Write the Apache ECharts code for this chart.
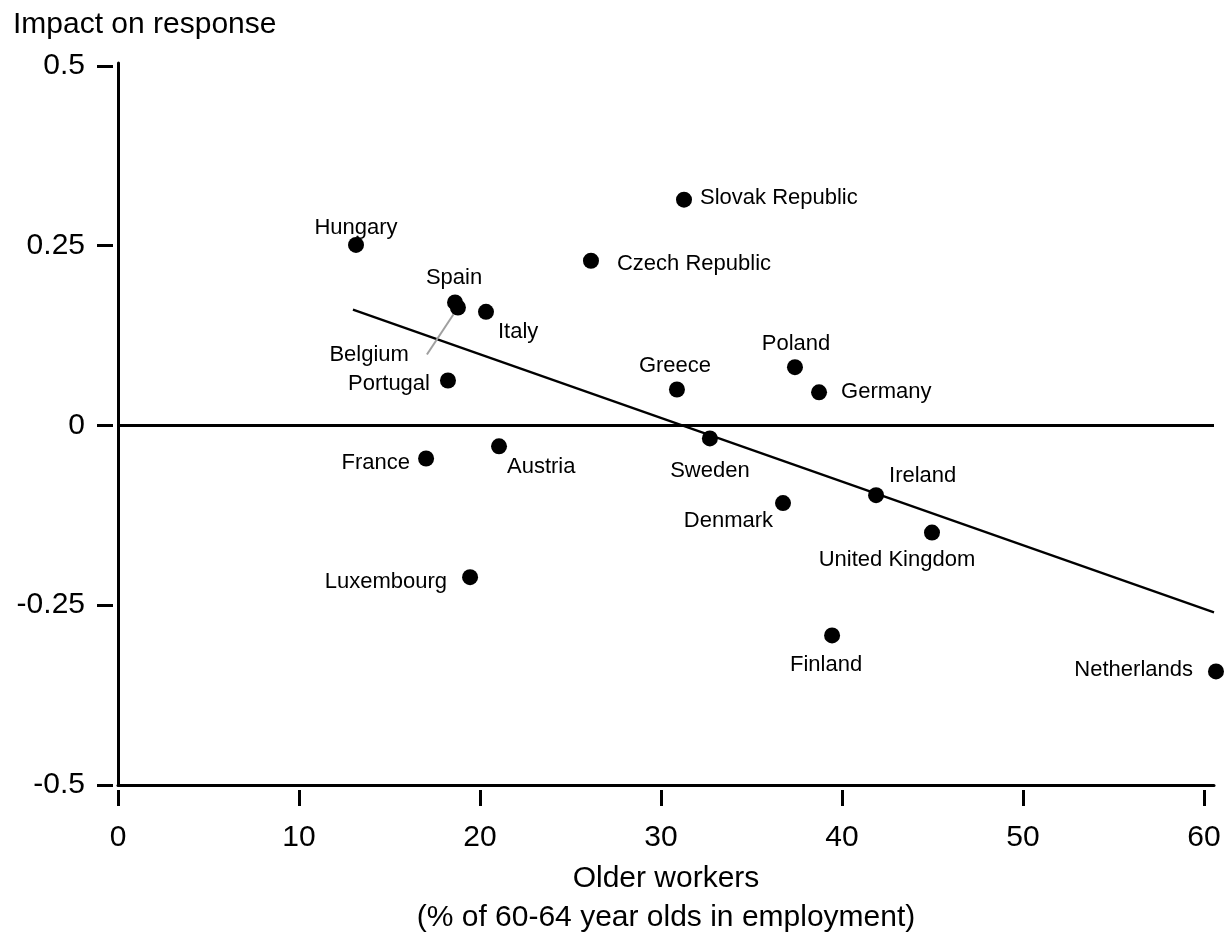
<!DOCTYPE html>
<html>
<head>
<meta charset="utf-8">
<script src="https://cdn.jsdelivr.net/npm/echarts@6/dist/echarts.min.js"></script>
<style>
  html, body { margin: 0; padding: 0; background: #ffffff; }
  #chart { width: 1231px; height: 936px; }
</style>
</head>
<body>
<div id="chart"></div>
<script>
// ---- Data ----
const countries = ['Hungary', 'Spain', 'Belgium', 'Italy', 'Portugal', 'Czech Republic', 'Slovak Republic',
  'Greece', 'Poland', 'Germany', 'Sweden', 'France', 'Austria', 'Luxembourg', 'Denmark', 'Ireland',
  'United Kingdom', 'Finland', 'Netherlands'];
const olderWorkers = [13.15, 18.62, 18.78, 20.33, 18.23, 26.13, 31.27,
  30.88, 37.4, 38.73, 32.7, 17.02, 21.05, 19.45, 36.74, 41.88,
  44.97, 39.45, 60.66];
const impactOnResponse = [0.251, 0.171, 0.164, 0.158, 0.0625, 0.229, 0.314,
  0.050, 0.081, 0.046, -0.018, -0.046, -0.029, -0.211, -0.108, -0.097,
  -0.149, -0.292, -0.342];
const trendX = [12.98, 60.55];
const trendY = [0.161, -0.26];
const xTicks = [0, 10, 20, 30, 40, 50, 60];
const xTickLabels = ['0', '10', '20', '30', '40', '50', '60'];
const yTicks = [-0.5, -0.25, 0, 0.25, 0.5];
const yTickLabels = ['-0.5', '-0.25', '0', '0.25', '0.5'];
const xMin = 0, xMax = 60.55;
const yMin = -0.5, yMax = 0.504;
const yTitle = 'Impact on response';
const xTitle = 'Older workers\n(% of 60-64 year olds in employment)';

// ---- Label placement (style only: align + pixel offset from the point) ----
const labelPlace = {
  'Hungary': ['center', 0, -17],
  'Spain': ['center', -1, -25],
  'Belgium': ['right', -31, 47],
  'Italy': ['left', 12, 20],
  'Portugal': ['right', -18, 3],
  'Czech Republic': ['left', 26, 3],
  'Slovak Republic': ['left', 16, -2],
  'Greece': ['center', -2, -24],
  'Poland': ['center', 1, -23],
  'Germany': ['left', 22, 0],
  'Sweden': ['center', 0, 33],
  'France': ['right', -16, 4],
  'Austria': ['left', 8, 21],
  'Luxembourg': ['right', -23, 5],
  'Denmark': ['right', -10, 18],
  'Ireland': ['left', 13, -19],
  'United Kingdom': ['center', -35, 27],
  'Finland': ['center', -6, 30],
  'Netherlands': ['right', -23, -1]
};

const FONT = '"Liberation Sans", Arial, Helvetica, sans-serif';

const scatterData = countries.map(function (name, i) {
  const p = labelPlace[name];
  const item = {
    name: name,
    value: [olderWorkers[i], impactOnResponse[i]],
    label: {
      show: true,
      position: 'inside',
      align: p[0],
      verticalAlign: 'middle',
      offset: [p[1], p[2]],
      color: '#000',
      fontSize: 22,
      fontFamily: FONT,
      formatter: name
    }
  };
  if (name === 'Belgium') {
    item.label.padding = [0, 18, 0, 0];
    item.label.backgroundColor = 'rgba(255,255,255,0)';
    item.labelLine = { show: true, lineStyle: { color: '#a0a0a0', width: 2 } };
  }
  return item;
});

const chart = echarts.init(document.getElementById('chart'), null, { renderer: 'canvas' });

const axisLineStyle = { color: '#000', width: 3 };

chart.setOption({
  animation: false,
  backgroundColor: '#ffffff',
  textStyle: { fontFamily: FONT, color: '#000' },
  title: {
    text: yTitle,
    left: 13,
    top: 10,
    padding: 0,
    textStyle: { fontFamily: FONT, fontSize: 30, fontWeight: 'normal', color: '#000' }
  },
  grid: { left: 118, right: 17, top: 63, bottom: 151, containLabel: false, outerBoundsMode: 'none' },
  xAxis: [
    {
      type: 'value', min: xMin, max: xMax, position: 'bottom',
      axisLine: { show: true, onZero: false, lineStyle: axisLineStyle },
      axisTick: { show: false }, axisLabel: { show: false }, splitLine: { show: false }
    },
    {
      type: 'value', min: xMin, max: xMax, position: 'bottom', offset: 5,
      axisLine: { show: false, onZero: false },
      axisTick: { show: true, length: 16, lineStyle: { color: '#000', width: 3 }, customValues: xTicks },
      axisLabel: {
        show: true, margin: 33, fontSize: 30, fontFamily: FONT, color: '#000',
        customValues: xTicks,
        formatter: function (v) { const k = xTicks.indexOf(v); return k >= 0 ? xTickLabels[k] : ''; }
      },
      splitLine: { show: false },
      name: xTitle, nameLocation: 'middle', nameGap: 69,
      nameTextStyle: { fontSize: 30, fontFamily: FONT, color: '#000', lineHeight: 39, align: 'center' }
    }
  ],
  yAxis: [
    {
      type: 'value', min: yMin, max: yMax, position: 'left',
      axisLine: { show: true, onZero: false, lineStyle: axisLineStyle },
      axisTick: { show: false }, axisLabel: { show: false }, splitLine: { show: false }
    },
    {
      type: 'value', min: yMin, max: yMax, position: 'left', offset: 5,
      axisLine: { show: false, onZero: false },
      axisTick: { show: true, length: 16, lineStyle: { color: '#000', width: 3 }, customValues: yTicks },
      axisLabel: {
        show: true, margin: 28, fontSize: 30, fontFamily: FONT, color: '#000',
        padding: [5, 0, 0, 0],
        customValues: yTicks,
        formatter: function (v) {
          for (let k = 0; k < yTicks.length; k++) { if (Math.abs(yTicks[k] - v) < 1e-9) return yTickLabels[k]; }
          return '';
        }
      },
      splitLine: { show: false }
    }
  ],
  series: [
    {
      type: 'line',
      name: 'trend',
      xAxisIndex: 0, yAxisIndex: 0,
      data: trendX.map(function (x, i) { return [x, trendY[i]]; }),
      symbol: 'none',
      lineStyle: { color: '#000', width: 2.2 },
      z: 2,
      silent: true,
      markLine: {
        silent: true,
        symbol: ['none', 'none'],
        label: { show: false },
        lineStyle: { color: '#000', width: 3, type: 'solid' },
        data: [{ yAxis: 0 }]
      }
    },
    {
      type: 'scatter',
      name: 'countries',
      xAxisIndex: 0, yAxisIndex: 0,
      data: scatterData,
      symbol: 'circle',
      symbolSize: 16,
      clip: false,
      itemStyle: { color: '#000', opacity: 1 },
      label: { fontSize: 22, fontFamily: FONT, color: '#000' },
      emphasis: { disabled: true },
      z: 3
    }
  ]
});
</script>
</body>
</html>
